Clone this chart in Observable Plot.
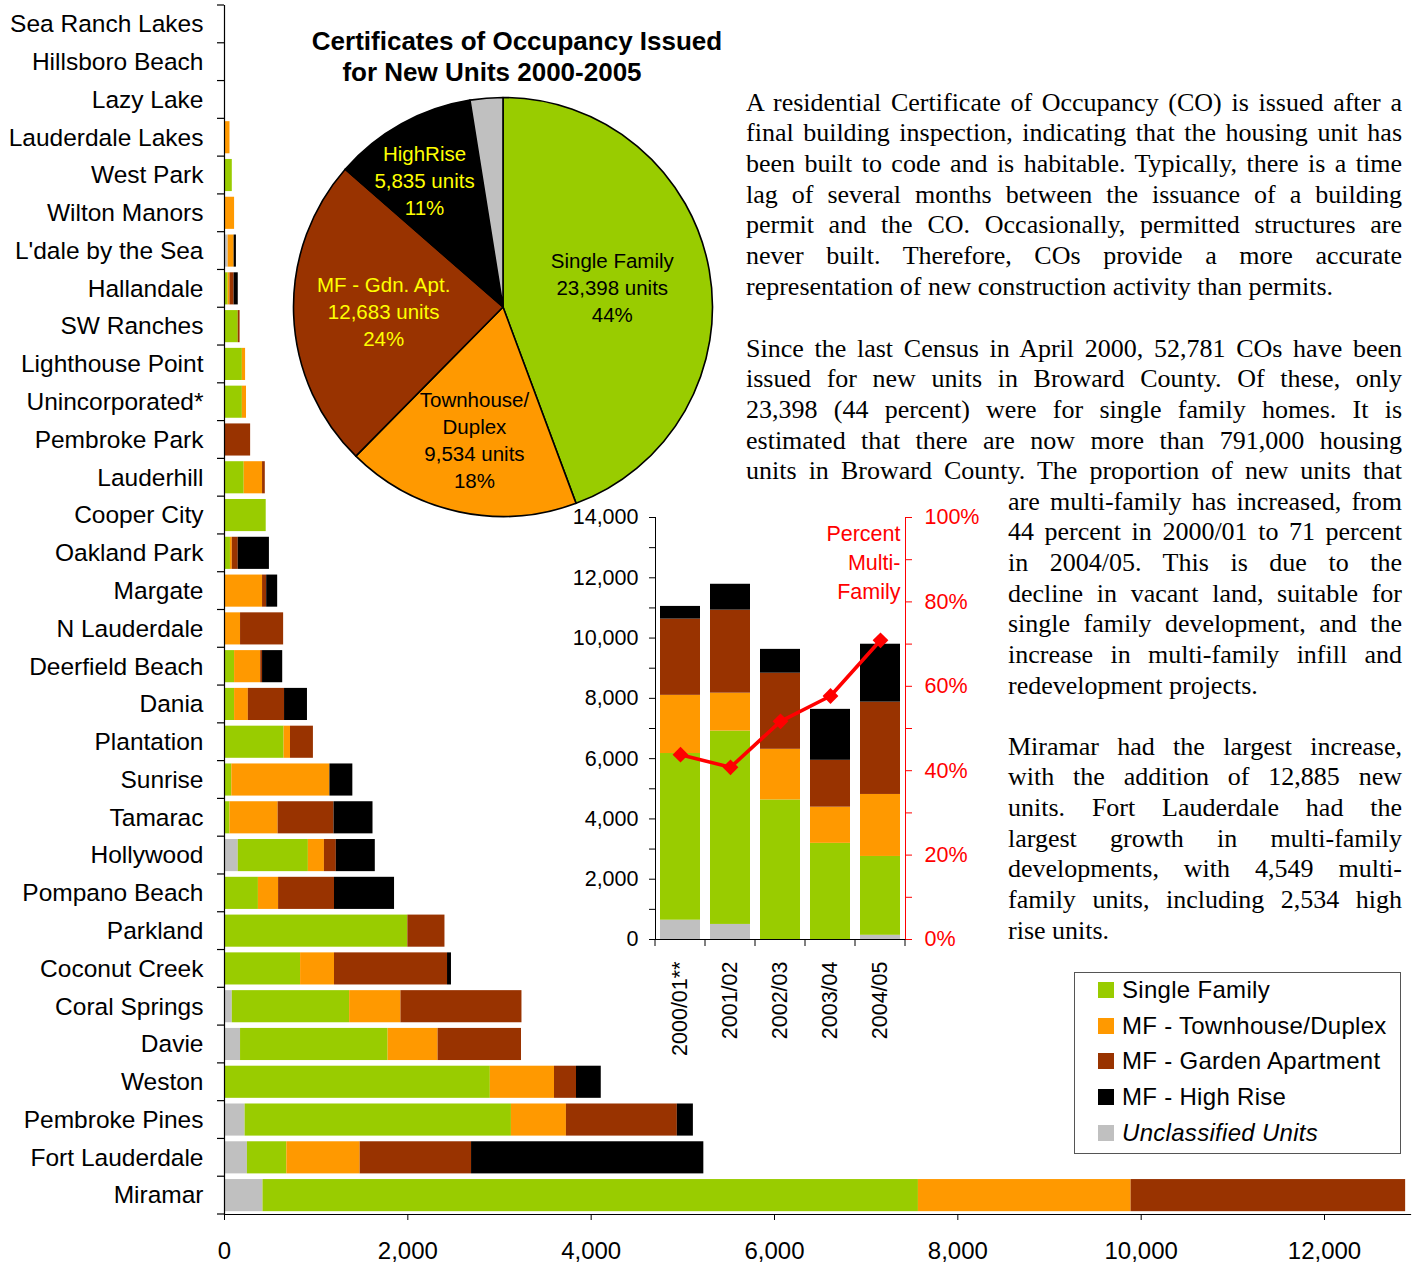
<!DOCTYPE html>
<html><head><meta charset="utf-8">
<script src="https://cdn.jsdelivr.net/npm/d3@7"></script>
<script src="https://cdn.jsdelivr.net/npm/@observablehq/plot@0.6"></script>
<style>
body{margin:0;background:#fff;}
#wrap{position:relative;width:1416px;height:1264px;overflow:hidden;font-family:Arial,"Liberation Sans",sans-serif;color:#000;}
.layer{position:absolute;}
.layer svg{background:transparent !important;overflow:visible;}
.title{position:absolute;font-weight:bold;font-size:26px;white-space:nowrap;transform:translate(-50%,-50%);}
.para{position:absolute;font-family:"Liberation Serif","Times New Roman",serif;font-size:26px;line-height:30.7px;}
.para div{text-align:justify;text-align-last:justify;white-space:normal;height:30.7px;}
.para div.last{text-align-last:left;}
#legend{position:absolute;left:1074px;top:972px;width:327px;height:182px;border:1px solid #555;box-sizing:border-box;}
#legend .row{position:absolute;left:23px;height:36px;display:flex;align-items:center;font-size:24px;letter-spacing:0.3px;white-space:nowrap;}
#legend .sw{width:16px;height:16px;margin-right:8px;}
</style></head><body><div id="wrap"></div>
<script>
// ---------- DATA ----------
const cities = ["Sea Ranch Lakes","Hillsboro Beach","Lazy Lake","Lauderdale Lakes","West Park","Wilton Manors","L'dale by the Sea","Hallandale","SW Ranches","Lighthouse Point","Unincorporated*","Pembroke Park","Lauderhill","Cooper City","Oakland Park","Margate","N Lauderdale","Deerfield Beach","Dania","Plantation","Sunrise","Tamarac","Hollywood","Pompano Beach","Parkland","Coconut Creek","Coral Springs","Davie","Weston","Pembroke Pines","Fort Lauderdale","Miramar"];
const cityUnclassified = [0,0,0,0,0,0,40,0,0,0,0,0,0,0,0,0,0,0,0,0,0,0,150,0,0,0,85,175,0,225,250,420];
const citySingleFamily = [0,0,0,0,85,0,0,40,150,195,195,0,215,455,65,0,0,110,110,650,80,60,765,370,2000,830,1280,1610,2900,2905,430,7150];
const cityTownhouse    = [0,0,0,60,0,110,65,20,0,35,45,0,200,0,20,415,175,285,150,70,1070,525,175,220,0,370,560,545,700,600,800,2320];
const cityGarden       = [0,0,0,0,0,0,0,45,20,0,0,285,30,0,65,45,470,20,395,250,0,610,130,610,405,1233,1320,910,240,1210,1215,2995];
const cityHighRise     = [0,0,0,0,0,0,25,45,0,0,0,0,0,0,340,120,0,220,250,0,250,425,425,655,0,43,0,0,270,175,2534,0];
const xTicks = [0,2000,4000,6000,8000,10000,12000];

const seriesNames = ["Unclassified Units","Single Family","MF - Townhouse/Duplex","MF - Garden Apartment","MF - High Rise"];
const seriesColors = ["#C0C0C0","#99CC00","#FF9900","#993300","#000000"];
const legendOrder = ["Single Family","MF - Townhouse/Duplex","MF - Garden Apartment","MF - High Rise","Unclassified Units"];

const pieNames = ["Single Family","Townhouse/\nDuplex","MF - Gdn. Apt.","HighRise",""];
const pieUnits = [23398,9534,12683,5835,1331];
const piePercent = ["44%","18%","24%","11%",""];
const pieColors = ["#99CC00","#FF9900","#993300","#000000","#C0C0C0"];
const pieTextColors = ["#000","#000","#FFFF00","#FFFF00","#000"];

const years = ["2000/01**","2001/02","2002/03","2003/04","2004/05"];
const yearUnclassified = [640,500,0,0,140];
const yearSingleFamily = [5530,6415,4630,3190,2615];
const yearTownhouse    = [1930,1257,1680,1200,2057];
const yearGarden       = [2530,2755,2525,1555,3063];
const yearHighRise     = [420,858,790,1690,1921];
const pctMultiFamily   = [43.8,40.8,51.7,57.7,70.9];
const insetMax = 14000;

// ---------- helpers ----------
const wrap = document.getElementById("wrap");
function place(node, left, top){const d=document.createElement("div");d.className="layer";d.style.left=left+"px";d.style.top=top+"px";d.appendChild(node);wrap.appendChild(d);return d;}
const font = "Arial, 'Liberation Sans', sans-serif";

// ---------- MAIN horizontal stacked bars ----------
const cityVals = [cityUnclassified,citySingleFamily,cityTownhouse,cityGarden,cityHighRise];
const cityData = cities.flatMap((c,i)=>seriesNames.map((s,j)=>({city:c,series:s,value:cityVals[j][i]})));

const main = Plot.plot({
  width:1416,height:1264,marginLeft:224,marginRight:6,marginTop:5,marginBottom:50,
  style:{background:"transparent",fontFamily:font,fontSize:"24px",color:"#000",overflow:"visible"},
  x:{domain:[0,12938]},
  y:{domain:cities,paddingInner:0.15,paddingOuter:0.075,round:false},
  color:{domain:seriesNames,range:seriesColors},
  marks:[
    Plot.barX(cityData,{x:"value",y:"city",fill:"series"}),
    Plot.ruleX([0],{stroke:"#000",strokeWidth:1.2}),
    Plot.frame({anchor:"bottom",stroke:"#000",strokeWidth:1.2}),
    Plot.axisX({ticks:xTicks,tickFormat:d3.format(","),tickSize:6,tickPadding:21,fontSize:24,label:null}),
    Plot.axisY({tickSize:0,tickPadding:21,fontSize:24.5,label:null})
  ]
});
{
  const ys = main.scale("y"), xs = main.scale("x");
  const x0 = xs.apply(0), half=(ys.step-ys.bandwidth)/2;
  const bounds = cities.map(c=>ys.apply(c)-half).concat([ys.apply(cities[cities.length-1])+ys.bandwidth+half]);
  const g = d3.select(main).append("g").attr("stroke","#000").attr("stroke-width",1.2);
  g.selectAll("line").data(bounds).join("line").attr("x1",x0-7).attr("x2",x0).attr("y1",d=>d).attr("y2",d=>d);
}
place(main,0,0);

// ---------- PIE ----------
const pieData = pieUnits.map((u,i)=>({name:pieNames[i],units:u,pct:piePercent[i],color:pieColors[i],text:pieTextColors[i]}));
const labelRadius = [0.53,0.65,0.57,0.71,0];
const labelAngleShift = [0,0,0,-0.05,0];
const pie = Plot.plot({
  width:440,height:440,margin:0,
  style:{background:"transparent",fontFamily:font,overflow:"visible"},
  marks:[(index,scales,values,dims)=>{
    const g = d3.create("svg:g");
    const cx=dims.width/2, cy=dims.height/2, r=209.5;
    const arcs = d3.pie().sort(null).value(d=>d.units)(pieData);
    const arc = d3.arc().innerRadius(0).outerRadius(r);
    const gg = g.append("g").attr("transform",`translate(${cx},${cy})`);
    gg.selectAll("path").data(arcs).join("path").attr("d",arc).attr("fill",d=>d.data.color).attr("stroke","#000").attr("stroke-width",1.6).attr("stroke-linejoin","round");
    arcs.forEach((a,i)=>{
      if(!a.data.name) return;
      const mid=(a.startAngle+a.endAngle)/2+labelAngleShift[i], rr=r*labelRadius[i];
      const lx=Math.sin(mid)*rr, ly=-Math.cos(mid)*rr;
      const lines = a.data.name.split("\n").concat([d3.format(",")(a.data.units)+" units",a.data.pct]);
      const lh=27, top=ly-(lines.length-1)*lh/2;
      const t = gg.append("text").attr("text-anchor","middle").attr("font-size",20.5).attr("fill",a.data.text);
      lines.forEach((ln,k)=>t.append("tspan").attr("x",lx).attr("y",top+k*lh).attr("dy","0.35em").text(ln));
    });
    return g.node();
  }]
});
place(pie,282.5,87);

// titles
[["Certificates of Occupancy Issued",517,41],["for New Units 2000-2005",492,72]].forEach(([t,x,y])=>{
  const d=document.createElement("div");d.className="title";d.style.left=x+"px";d.style.top=y+"px";d.textContent=t;wrap.appendChild(d);
});

// ---------- INSET column chart ----------
const yearVals=[yearUnclassified,yearSingleFamily,yearTownhouse,yearGarden,yearHighRise];
const insetData = years.flatMap((yr,i)=>seriesNames.map((s,j)=>({year:yr,series:s,value:yearVals[j][i]})));
const pctData = years.map((yr,i)=>({year:yr,pct:pctMultiFamily[i]}));
const toUnits = p=>p/100*insetMax;
const inset = Plot.plot({
  width:440,height:580,marginLeft:95,marginRight:95,marginTop:37,marginBottom:121,
  style:{background:"transparent",fontFamily:font,fontSize:"21px",color:"#000",overflow:"visible"},
  x:{domain:years,paddingInner:0.2,paddingOuter:0.1,round:false},
  y:{domain:[0,insetMax]},
  color:{domain:seriesNames,range:seriesColors},
  marks:[
    Plot.barY(insetData,{x:"year",y:"value",fill:"series"}),
    Plot.line(pctData,{x:"year",y:d=>toUnits(d.pct),stroke:"#FF0000",strokeWidth:3.6}),
    Plot.dot(pctData,{x:"year",y:d=>toUnits(d.pct),symbol:"square",rotate:45,r:6.3,fill:"#FF0000"}),
    Plot.frame({anchor:"left",stroke:"#000"}),
    Plot.frame({anchor:"bottom",stroke:"#000"}),
    Plot.frame({anchor:"right",stroke:"#FF0000"}),
    Plot.axisY({ticks:d3.range(0,insetMax+1,1000),tickFormat:d=>d%2000===0?d3.format(",")(d):"",tickSize:6,tickPadding:11,fontSize:21.5,label:null}),
    Plot.axisY({anchor:"right",ticks:d3.range(0,insetMax+1,insetMax/10),tickFormat:d=>{const p=Math.round(d/insetMax*100);return p%20===0?p+"%":"";},tickSize:6,tickPadding:13,fontSize:21.5,stroke:"#FF0000",fill:"#FF0000",label:null}),
    Plot.axisX({tickSize:0,tickRotate:-90,tickPadding:22,fontSize:21.5,label:null}),
    Plot.text(["Percent\nMulti-\nFamily"],{frameAnchor:"top-right",textAnchor:"end",lineAnchor:"top",fill:"#FF0000",fontSize:21.5,lineHeight:1.35,dx:-5,dy:3})
  ]
});
{
  const xs=inset.scale("x"), ys=inset.scale("y");
  const half=(xs.step-xs.bandwidth)/2, y0=ys.apply(0);
  const bounds=years.map(y=>xs.apply(y)-half).concat([xs.apply(years[years.length-1])+xs.bandwidth+half]);
  d3.select(inset).append("g").attr("stroke","#000").selectAll("line").data(bounds).join("line")
    .attr("x1",d=>d).attr("x2",d=>d).attr("y1",y0).attr("y2",y0+7);
}
place(inset,560,480);

// ---------- TEXT ----------
const para1=["A residential Certificate of Occupancy (CO) is issued after a","final building inspection, indicating that the housing unit has","been built to code and is habitable.  Typically, there is a time","lag of several months between the issuance of a building","permit and the CO. Occasionally, permitted structures are","never built. Therefore, COs provide a more accurate","representation of new construction activity than permits."];
const para2a=["Since the last Census in April 2000, 52,781 COs have been","issued for new units in Broward County.  Of these, only","23,398 (44 percent) were for single family homes.  It is","estimated that there are now more than 791,000 housing","units in Broward County.  The proportion of new units that"];
const para2b=["are multi-family has increased, from","44 percent in 2000/01 to 71 percent","in 2004/05.  This is due to the","decline in vacant land, suitable for","single family development, and the","increase in multi-family infill and","redevelopment projects."];
const para3=["Miramar had the largest increase,","with the addition of 12,885 new","units. Fort Lauderdale had the","largest growth in multi-family","developments, with 4,549 multi-","family units, including 2,534 high","rise units."];
function para(lines,left,width,firstCenter,lastIsLast){
  const p=document.createElement("div");p.className="para";p.style.left=left+"px";p.style.width=width+"px";p.style.top=(firstCenter-15.35)+"px";
  lines.forEach((l,i)=>{const d=document.createElement("div");d.textContent=l;if(lastIsLast&&i===lines.length-1)d.className="last";p.appendChild(d);});
  wrap.appendChild(p);
}
para(para1,746,656,103,true);
para(para2a,746,656,349,false);
para(para2b,1008,394,502,true);
para(para3,1008,394,747,true);

// ---------- LEGEND ----------
const leg=document.createElement("div");leg.id="legend";
legendOrder.forEach((s,i)=>{
  const r=document.createElement("div");r.className="row";r.style.top=(i*35.7-1)+"px";
  const sw=document.createElement("div");sw.className="sw";sw.style.background=seriesColors[seriesNames.indexOf(s)];
  const t=document.createElement("span");t.textContent=s;if(s==="Unclassified Units")t.style.fontStyle="italic";
  r.appendChild(sw);r.appendChild(t);leg.appendChild(r);
});
wrap.appendChild(leg);
</script></body></html>
